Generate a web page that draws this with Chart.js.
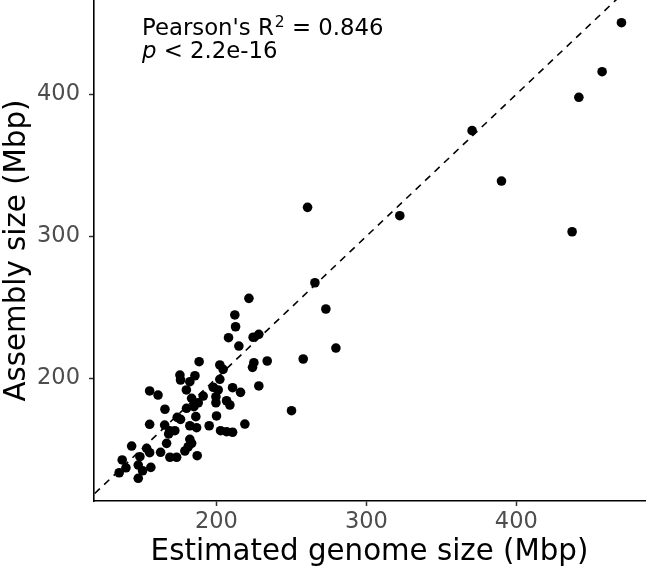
<!DOCTYPE html>
<html>
<head>
<meta charset="utf-8">
<script src="https://cdn.jsdelivr.net/npm/chart.js@4/dist/chart.umd.min.js"></script>
<style>
  html, body { margin: 0; padding: 0; background: #ffffff; }
  #wrap { width: 647px; height: 571px; }
</style>
</head>
<body>
<div id="wrap"><canvas id="c" width="647" height="571"></canvas></div>
<script>
// Estimated genome size (Mbp)
const estimatedSize = [
  221.7, 212.3, 212.8, 208.1, 215.0, 224.5, 228.3, 188.5, 202.3, 204.5,
  225.0, 224.1, 233.9, 257.9, 175.7, 176.1, 185.7, 182.3, 202.3, 155.5,
  161.1, 180.0, 197.9, 201.2, 210.8, 216.1, 228.3, 183.5, 191.2, 187.9,
  199.7, 199.7, 206.8, 209.0, 185.0, 180.1, 165.7, 250.1, 186.3, 173.9,
  176.1, 200.1, 155.5, 165.5, 168.9, 172.3, 182.3, 186.8, 195.2, 202.8,
  206.8, 210.8, 219.0, 168.2, 143.5, 153.5, 166.8, 155.5, 162.8, 169.0,
  173.5, 179.0, 182.3, 183.5, 181.2, 187.2, 149.0, 137.2, 139.7, 135.2,
  147.9, 150.8, 156.3, 147.9, 260.8, 265.7, 273.0, 279.7, 470.1, 457.2,
  441.7, 370.5, 390.1, 322.3, 437.2
];
// Assembly size (Mbp)
const assemblySize = [
  256.3, 244.6, 236.3, 228.6, 222.7, 228.9, 231.0, 211.7, 209.4, 206.3,
  211.0, 207.7, 212.2, 213.6, 202.3, 198.8, 201.8, 197.6, 199.3, 191.1,
  188.2, 191.8, 193.7, 191.8, 193.4, 190.1, 194.6, 185.9, 187.5, 182.8,
  187.0, 182.8, 184.2, 181.2, 180.0, 178.9, 178.2, 177.2, 173.0, 172.5,
  171.1, 173.5, 167.6, 167.1, 163.1, 163.1, 166.6, 165.2, 166.6, 163.1,
  162.4, 162.0, 167.8, 160.8, 152.3, 150.7, 154.2, 147.6, 147.9, 144.4,
  144.4, 148.8, 157.0, 154.2, 151.8, 145.5, 144.8, 142.5, 137.0, 133.5,
  138.9, 134.9, 137.3, 129.6, 320.4, 267.3, 248.8, 221.3, 450.4, 415.9,
  397.9, 374.4, 338.9, 314.5, 303.2
];
const xTicks = [200, 300, 400];
const yTicks = [200, 300, 400];
const identityLine = [100, 500];   // y = x reference line
const xRange = [118.4, 485.8];
const yRange = [113.6, 466.4];
const statLine1 = ["Pearson's R", "2", " = 0.846"];
const statLine2 = ["p", " < 2.2e-16"];
const statAnchor = { x: 150.4, y: 441.6 };  // data coordinates of first-line baseline start

const points = estimatedSize.map((v, i) => ({ x: v, y: assemblySize[i] }));
const linePts = identityLine.map(v => ({ x: v, y: v }));

const FONT = "'DejaVu Sans', sans-serif";

const annotationPlugin = {
  id: 'statText',
  afterDatasetsDraw(chart) {
    const ctx = chart.ctx;
    const xs = chart.scales.x, ys = chart.scales.y;
    const x0 = xs.getPixelForValue(statAnchor.x);
    const y0 = ys.getPixelForValue(statAnchor.y);
    ctx.save();
    ctx.fillStyle = '#000000';
    ctx.textBaseline = 'alphabetic';
    ctx.textAlign = 'left';
    let x = x0;
    ctx.font = "22.8px " + FONT;
    ctx.fillText(statLine1[0], x, y0);
    x += ctx.measureText(statLine1[0]).width + 1;
    ctx.font = "15.5px " + FONT;
    ctx.fillText(statLine1[1], x, y0 - 8);
    x += ctx.measureText(statLine1[1]).width;
    ctx.font = "22.8px " + FONT;
    ctx.fillText(statLine1[2], x, y0);
    // second line
    const y1 = y0 + 23;
    x = x0;
    ctx.font = "italic 22.8px " + FONT;
    ctx.fillText(statLine2[0], x, y1);
    x += ctx.measureText(statLine2[0]).width;
    ctx.font = "22.8px " + FONT;
    ctx.fillText(statLine2[1], x, y1);
    ctx.restore();
  }
};

new Chart(document.getElementById('c'), {
  type: 'scatter',
  data: {
    datasets: [
      {
        type: 'line',
        data: linePts,
        borderColor: '#000000',
        borderWidth: 1.6,
        borderDash: [7, 6],
        pointRadius: 0,
        fill: false,
        order: 2
      },
      {
        data: points,
        backgroundColor: '#000000',
        borderWidth: 0,
        pointRadius: 4.8,
        pointHoverRadius: 4.8,
        order: 1
      }
    ]
  },
  options: {
    responsive: false,
    devicePixelRatio: 1,
    animation: false,
    events: [],
    layout: { autoPadding: false, padding: { top: 0, right: 2, bottom: 0, left: 0 } },
    plugins: { legend: { display: false }, tooltip: { enabled: false } },
    scales: {
      x: {
        type: 'linear',
        min: xRange[0],
        max: xRange[1],
        afterBuildTicks(scale) { scale.ticks = xTicks.map(v => ({ value: v })); },
        afterFit(scale) { scale.height = 70; scale.paddingLeft = 0; scale.paddingRight = 0; },
        grid: { drawOnChartArea: false, drawTicks: true, tickLength: 5, tickColor: '#333333', tickWidth: 1.5 },
        border: { display: true, color: '#000000', width: 1.6 },
        ticks: { color: '#4D4D4D', font: { family: FONT, size: 22.5 }, padding: 3, maxRotation: 0 },
        title: { display: true, text: 'Estimated genome size (Mbp)', color: '#000000', font: { family: FONT, size: 29.3 }, padding: { top: 0, bottom: 1 } }
      },
      y: {
        type: 'linear',
        min: yRange[0],
        max: yRange[1],
        afterBuildTicks(scale) { scale.ticks = yTicks.map(v => ({ value: v })); },
        afterFit(scale) { scale.width = 94; scale.paddingTop = 0; scale.paddingBottom = 0; },
        grid: { drawOnChartArea: false, drawTicks: true, tickLength: 5, tickColor: '#333333', tickWidth: 1.5 },
        border: { display: true, color: '#000000', width: 1.6 },
        ticks: { color: '#4D4D4D', font: { family: FONT, size: 22.5 }, padding: 9 },
        title: { display: true, text: 'Assembly size (Mbp)', color: '#000000', font: { family: FONT, size: 29.3 }, padding: { top: 0, bottom: 0 } }
      }
    }
  },
  plugins: [annotationPlugin]
});
</script>
</body>
</html>
